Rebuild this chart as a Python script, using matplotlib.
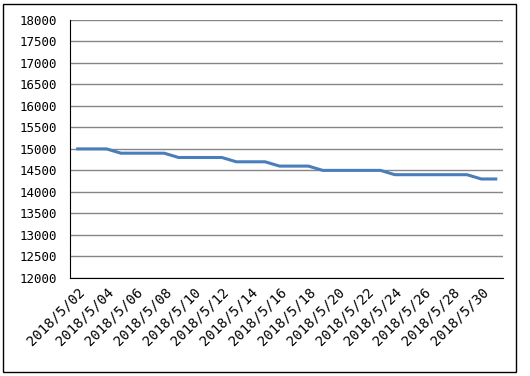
import matplotlib
matplotlib.use("Agg")
import matplotlib.pyplot as plt
from matplotlib.patches import Rectangle

# daily values 2018/5/02 .. 2018/5/31
dates = ["2018/5/%02d" % d for d in range(2, 32)]
prices = [15000, 15000, 15000,
          14900, 14900, 14900, 14900,
          14800, 14800, 14800, 14800,
          14700, 14700, 14700,
          14600, 14600, 14600,
          14500, 14500, 14500, 14500, 14500,
          14400, 14400, 14400, 14400, 14400, 14400,
          14300, 14300]
yticks = list(range(12000, 18001, 500))

plt.rcParams['font.family'] = ['DejaVu Sans Mono', 'DejaVu Sans']

fig = plt.figure(figsize=(5.3, 3.76), dpi=100)
ax = fig.add_axes([0.133, 0.261, 0.816, 0.686])

x = list(range(len(dates)))
ax.plot(x, prices, color='#4a7ebb', linewidth=2.2, solid_joinstyle='round')

ax.set_xlim(-0.5, len(dates) - 0.5)
ax.set_ylim(12000, 18000)
ax.set_yticks(yticks)
ax.set_yticklabels([str(v) for v in yticks], fontsize=9)
ax.set_xticks(x[::2])
ax.set_xticklabels(dates[::2], rotation=45, ha='right', va='top',
                   rotation_mode='anchor', fontsize=10)
ax.tick_params(axis='y', length=0, pad=10)
ax.tick_params(axis='x', length=0, pad=5)

ax.grid(axis='y', color='#868686', linewidth=1)
ax.set_axisbelow(True)
for s in ['top', 'right']:
    ax.spines[s].set_visible(False)
ax.spines['left'].set_color('black')
ax.spines['bottom'].set_color('black')

# chart border
fig.patches.append(Rectangle((0.006, 0.011), 0.968, 0.979, transform=fig.transFigure,
                             fill=False, edgecolor='black', linewidth=1))

fig.savefig('out.png', dpi=100)
